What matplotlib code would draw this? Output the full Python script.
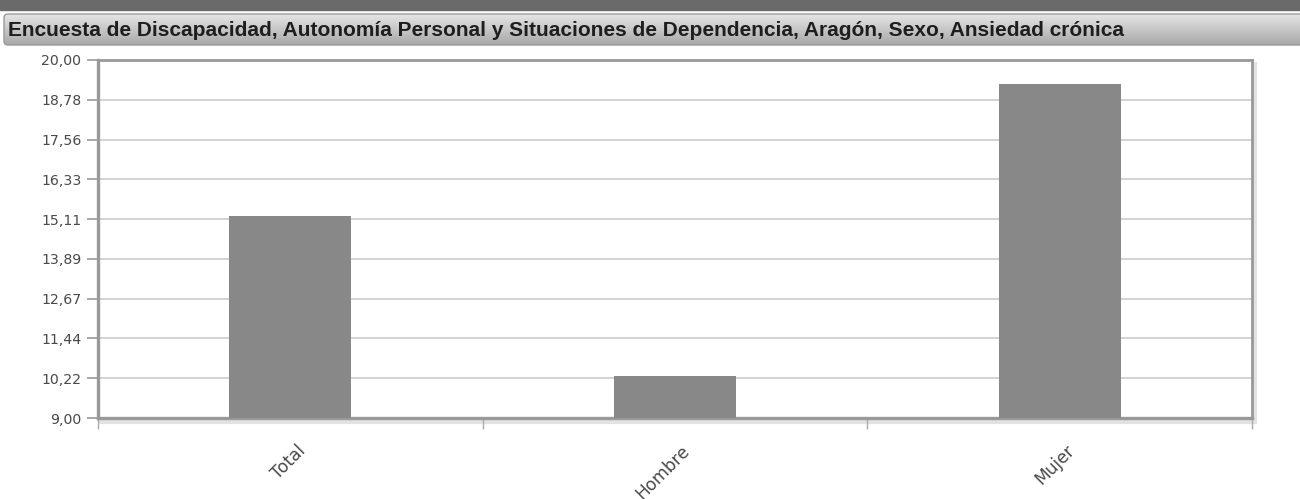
import matplotlib
matplotlib.use('Agg')
import matplotlib.pyplot as plt
import numpy as np
from matplotlib.patches import FancyBboxPatch, Rectangle

# data
categorias = ['Total', 'Hombre', 'Mujer']
valores = [15.21, 10.28, 19.26]
y_min, y_max = 9.0, 20.0
titulo = 'Encuesta de Discapacidad, Autonomía Personal y Situaciones de Dependencia, Aragón, Sexo, Ansiedad crónica'

W, H = 1300, 499
fig = plt.figure(figsize=(W / 100, H / 100), dpi=100)

# dark strip on top
fig.patches.append(Rectangle((0, 1 - 10 / H), 1, 10 / H, transform=fig.transFigure,
                             color='#6a6a6a', zorder=0))

# title bar with vertical gradient
bar_ax = fig.add_axes([0, 0, 1, 1], zorder=1)
bar_ax.set_xlim(0, W); bar_ax.set_ylim(H, 0)
bar_ax.axis('off')
grad = np.linspace(0, 1, 64).reshape(-1, 1)
top_c = np.array([0.90, 0.90, 0.90]); bot_c = np.array([0.66, 0.66, 0.66])
img = top_c + (bot_c - top_c) * grad[..., None]
box = FancyBboxPatch((4, 14), W + 20, 31, boxstyle='round,pad=0,rounding_size=4',
                     facecolor='none', edgecolor='#9a9a9a', linewidth=1.0)
bar_ax.add_patch(box)
im = bar_ax.imshow(np.repeat(img, 2, axis=1), extent=(4, W + 24, 45, 14), aspect='auto',
                   interpolation='bilinear')
im.set_clip_path(box)
bar_ax.text(8, 30, titulo, fontsize=15, fontweight='bold', color='#1e1e1e',
            family=['Liberation Sans', 'DejaVu Sans'], va='center', ha='left')

# main chart
left, right, top, bottom = 98, 1252, 60, 418
ax = fig.add_axes([left / W, 1 - bottom / H, (right - left) / W, (bottom - top) / H], zorder=2)

# faint shadow around the frame
shadow = Rectangle(((left + 3) / W, 1 - (bottom + 4) / H), (right - left) / W, (bottom - top) / H,
                   transform=fig.transFigure, facecolor='none', edgecolor='#e2e2e2',
                   linewidth=3, zorder=1.5)
fig.patches.append(shadow)

x = np.arange(len(categorias))
ax.bar(x, [v - y_min for v in valores], bottom=y_min, width=0.317, color='#888888', zorder=3)
ax.set_xlim(-0.5, len(categorias) - 0.5)
ax.set_ylim(y_min, y_max)

yt = np.linspace(y_min, y_max, 10)
ax.set_yticks(yt)
ax.set_yticklabels([f'{v:.2f}'.replace('.', ',') for v in yt])
ax.yaxis.grid(True, color='#cccccc', linewidth=1.2, zorder=0)
ax.tick_params(axis='y', length=8, width=1.2, color='#999999', labelcolor='#4a4a4a',
               labelsize=10.2, pad=4)

# category boundaries as x ticks, labels centered by minor ticks
ax.set_xticks(np.arange(-0.5, len(categorias), 1.0))
ax.set_xticklabels([])
ax.tick_params(axis='x', which='major', length=8, width=1.0, color='#aaaaaa', direction='out')
ax.set_xticks(x + 0.015, minor=True)
ax.set_xticklabels(categorias, minor=True, rotation=45, ha='right', va='top',
                   rotation_mode='anchor')
ax.tick_params(axis='x', which='minor', length=0, labelsize=12.3, labelcolor='#4a4a4a', pad=17)

for s in ['left', 'bottom']:
    ax.spines[s].set_color('#999999'); ax.spines[s].set_linewidth(2.4)
for s in ['top', 'right']:
    ax.spines[s].set_color('#999999'); ax.spines[s].set_linewidth(2.0)
ax.set_axisbelow(True)

fig.savefig('out.png', dpi=100, facecolor='white')
